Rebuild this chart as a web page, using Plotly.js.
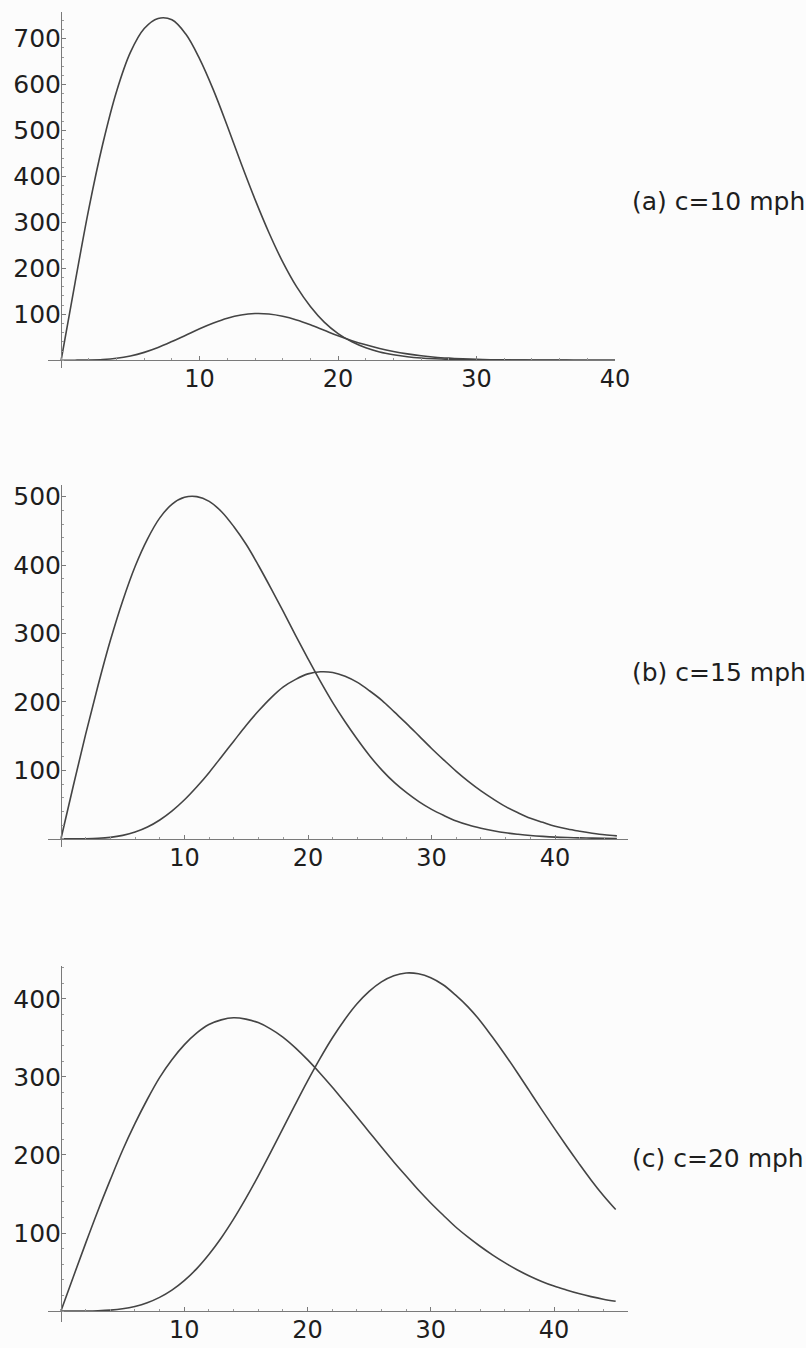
<!DOCTYPE html>
<html><head><meta charset="utf-8">
<script src="https://cdn.plot.ly/plotly-3.0.1.min.js"></script>
<style>html,body{margin:0;padding:0;background:#fcfcfc}</style>
</head><body>
<div id="chart" style="width:806px;height:1348px"></div>
<script>
// ---- data ----
const speedA = [0,1,2,3,4,5,6,7,8,9,10,11,12,13,14,15,16,17,18,19,20,21,22,23,24,25,26,27,28,29,30,31,32,33,34,35,36,37,38,39,40];
const hoursA = [0,168,330,470,585,670,722,744,741,710,656,588,510,428,350,278,214,160,117,83,58,40,27,18,12,7.6,4.8,3,1.8,1.1,0.6,0.3,0.2,0.1,0,0,0,0,0,0,0];
const energyA = [0,0.02,0.3,1.4,4.1,9.2,17,27.5,40.5,54.5,68.5,81,91.5,98.5,101.5,100.5,95.5,87.5,77,65,53,42.5,33.5,25.5,19,13.8,9.6,6.5,4.4,2.9,1.8,1.1,0.7,0.4,0.2,0.1,0.06,0.03,0.02,0.01,0];

const speedBC = [0,1,2,3,4,5,6,7,8,9,10,11,12,13,14,15,16,17,18,19,20,21,22,23,24,25,26,27,28,29,30,31,32,33,34,35,36,37,38,39,40,41,42,43,44,45];
const hoursB = [0,77.5,153,224,290,348,398,438,469,489,499,500,493,478,456,430,399,366,332,297,263,230,199,171,145,121,100,82,67,54,43,34,26,20,15.5,11.8,8.8,6.6,4.8,3.5,2.5,1.8,1.3,0.9,0.6,0.4];
const energyB = [0,0.01,0.14,0.7,2.1,5,9.8,17.2,27.5,40.8,57,76,97,120,143,166,187,206,222,233,241,244,243,237.5,228.5,216,202,185,168,150,132,115,98.5,83.5,70,58,47,38,30,24,18.3,14.2,11,8.2,5.8,4.2];

const hoursC = [0,43.7,86.7,128.5,168,206,240,271,299,322,341,356,367,373,375.7,374,369.5,361.5,351,337.5,322,305,287,268,249,229.5,210,191,173,155,138.5,123,108,95,83,72,62,53,45,38,32,27,22.4,18.5,15.2,12.5];
const energyC = [0,0.005,0.08,0.4,1.2,2.9,5.9,10.6,17.5,26.8,39,54,72.4,93.6,117.7,144.3,172.8,202.8,233.6,264.4,294.5,323,349.4,372.9,393.3,409.5,421.7,429.6,433,432,427,418,405,390,372,351,329,306,282,258,234.6,211.7,189.5,168,148,130];

const yTicksA = [100,200,300,400,500,600,700];
const yTicksB = [100,200,300,400,500];
const yTicksC = [100,200,300,400];
const xTicks = [10,20,30,40];
const panelLabels = ['(a) c=10 mph', '(b) c=15 mph', '(c) c=20 mph'];

// ---- layout geometry (pixels) ----
const W = 806, H = 1348;
const FONT = 'DejaVu Sans';
const lineColor = '#444444';
const axisColor = '#7a7a7a';

function px2x(p){ return p / W; }
function px2y(p){ return 1 - p / H; }

function xAxis(left, right, range, zeroPx){
  return {
    domain:[px2x(left), px2x(right)], range: range, anchor:'free', position: px2y(zeroPx),
    showline:true, linecolor:axisColor, linewidth:1, showgrid:false, zeroline:false,
    ticks:'inside', ticklen:4, tickwidth:1, tickcolor:axisColor,
    tickmode:'array', tickvals:xTicks, ticktext:xTicks.map(String),
    tickfont:{family:FONT, size:24, color:'#1e1e1e'}, ticklabelstandoff:-3,
    minor:{tickmode:'linear', tick0:0, dtick:2, ticks:'inside', ticklen:2, tickcolor:'#999', tickwidth:1},
    fixedrange:true
  };
}
function yAxis(top, bottom, range, zeroPx, vals){
  return {
    domain:[px2y(bottom), px2y(top)], range: range, anchor:'free', position: px2x(zeroPx),
    showline:true, linecolor:axisColor, linewidth:1, showgrid:false, zeroline:false,
    ticks:'inside', ticklen:4, tickwidth:1, tickcolor:axisColor,
    tickmode:'array', tickvals:vals, ticktext:vals.map(String),
    tickfont:{family:FONT, size:25, color:'#1e1e1e'}, ticklabelstandoff:-5,
    minor:{tickmode:'linear', tick0:0, dtick:20, ticks:'inside', ticklen:2, tickcolor:'#999', tickwidth:1},
    fixedrange:true
  };
}

function curve(x, y, xa, ya){
  return {x:x, y:y, xaxis:xa, yaxis:ya, type:'scatter', mode:'lines',
    line:{color:lineColor, width:1.6, shape:'spline', smoothing:1}, hoverinfo:'skip', showlegend:false};
}

const traces = [
  curve(speedA, hoursA, 'x', 'y'),
  curve(speedA, energyA, 'x', 'y'),
  curve(speedBC, hoursB, 'x2', 'y2'),
  curve(speedBC, energyB, 'x2', 'y2'),
  curve(speedBC, hoursC, 'x3', 'y3'),
  curve(speedBC, energyC, 'x3', 'y3')
];

const labelY = [201, 673, 1158];
const layout = {
  width:W, height:H, margin:{l:0,r:0,t:0,b:0},
  paper_bgcolor:'#fcfcfc', plot_bgcolor:'rgba(0,0,0,0)',
  showlegend:false,
  xaxis:  xAxis(48, 615, [-0.95, 40], 360),
  yaxis:  yAxis(12, 368, [-17, 758], 61, yTicksA),
  xaxis2: xAxis(48, 628, [-1.05, 45.9], 839),
  yaxis2: yAxis(485, 847, [-12, 517], 61, yTicksB),
  xaxis3: xAxis(48, 628, [-1.05, 46], 1311),
  yaxis3: yAxis(966, 1322, [-14, 442], 61, yTicksC),
  annotations: panelLabels.map((t, i) => ({
    text:t, xref:'paper', yref:'paper', x:px2x(630), y:px2y(labelY[i]),
    xanchor:'left', yanchor:'middle', showarrow:false,
    font:{family:FONT, size:25, color:'#1e1e1e'}
  }))
};

Plotly.newPlot('chart', traces, layout, {staticPlot:true, displayModeBar:false});
</script>
</body></html>
